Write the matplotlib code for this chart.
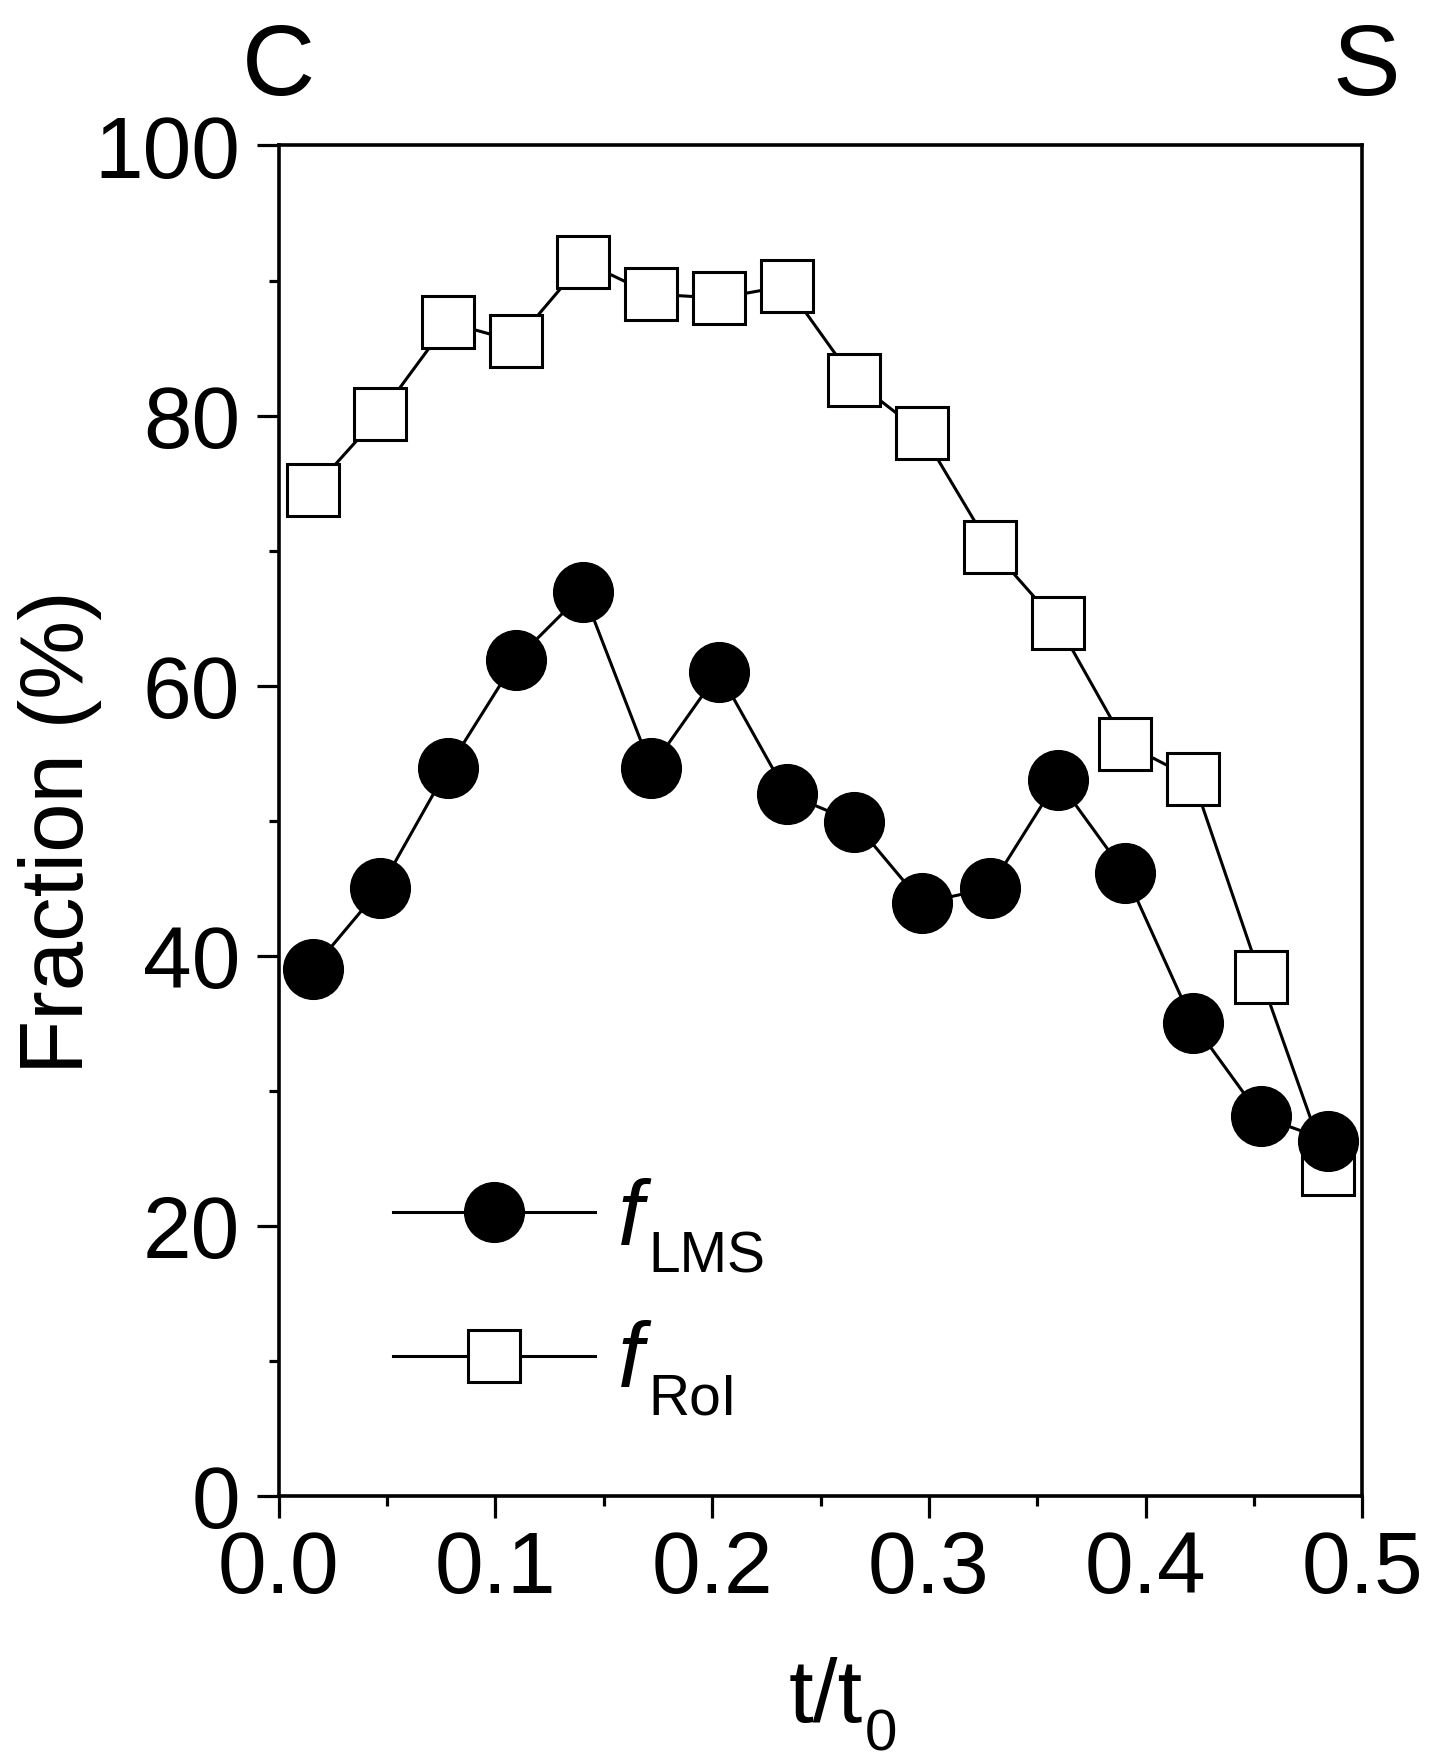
import numpy as np
import matplotlib.pyplot as plt
from matplotlib.ticker import MultipleLocator

plt.rcParams['font.family'] = ['Liberation Sans', 'DejaVu Sans']

# данные
t = [0.0156, 0.0469, 0.0781, 0.1094, 0.1406, 0.1719, 0.2031, 0.2344,
     0.2656, 0.2969, 0.3281, 0.3594, 0.3906, 0.4219, 0.4531, 0.4844]
f_lms = [39.0, 45.0, 53.9, 61.9, 66.9, 53.9, 61.0, 52.0,
         49.9, 43.9, 45.0, 53.0, 46.1, 35.0, 28.1, 26.3]
f_roi = [74.5, 80.1, 86.9, 85.5, 91.4, 89.0, 88.7, 89.6,
         82.6, 78.7, 70.3, 64.6, 55.7, 53.1, 38.4, 24.2]
xticks = ['0.0', '0.1', '0.2', '0.3', '0.4', '0.5']
yticks = ['0', '20', '40', '60', '80', '100']

fs = 63

fig = plt.figure(figsize=(14.37, 17.65), dpi=100)
ax = fig.add_axes([0.194, 0.152, 0.754, 0.765])

l_roi, = ax.plot(t, f_roi, '-', color='black', lw=2.2, marker='s', ms=37,
                 mfc='white', mec='black', mew=2.2, zorder=3)
l_lms, = ax.plot(t, f_lms, '-', color='black', lw=2.2, marker='o', ms=43,
                 mfc='black', mec='black', zorder=4)

ax.set_xlim(0, 0.5)
ax.set_ylim(0, 100)
ax.set_xticks([0, 0.1, 0.2, 0.3, 0.4, 0.5])
ax.set_xticklabels(xticks)
ax.set_yticks([0, 20, 40, 60, 80, 100])
ax.set_yticklabels(yticks)
ax.xaxis.set_minor_locator(MultipleLocator(0.05))
ax.yaxis.set_minor_locator(MultipleLocator(10))

ax.tick_params(which='major', direction='out', length=16, width=2.3,
               labelsize=fs, top=False, right=False)
ax.tick_params(axis='y', which='major', pad=12)
ax.tick_params(axis='x', which='major', pad=8)
ax.tick_params(which='minor', direction='out', length=7, width=2.3,
               top=False, right=False)
for s in ax.spines.values():
    s.set_linewidth(2.6)

# подписи осей
ax.set_ylabel('Fraction (%)', fontsize=64)
ax.yaxis.set_label_coords(-0.163, 0.492)
ax.set_xlabel('t/t', fontsize=64)
ax.xaxis.set_label_coords(0.505, -0.119)
ax.text(0.541, -0.197, '0', transform=ax.transAxes, fontsize=42,
        ha='left', va='bottom')

ax.text(0.0, 1.038, 'C', transform=ax.transAxes, fontsize=73, ha='center', va='baseline')
ax.text(1.004, 1.038, 'S', transform=ax.transAxes, fontsize=73, ha='center', va='baseline')

# легенда: значки через legend, подписи f с индексом вручную
ax.legend([l_lms, l_roi], [' ', ' '], loc='center left',
          bbox_to_anchor=(0.033, 0.151), frameon=False, fontsize=fs,
          handlelength=2.3, handletextpad=0.2, labelspacing=0.72)
for yb, sub in [(0.187, 'LMS'), (0.082, 'RoI')]:
    ax.text(0.313, yb, 'f', transform=ax.transAxes, fontsize=66,
            style='italic', ha='left', va='baseline')
    ax.text(0.341, yb - 0.021, sub, transform=ax.transAxes, fontsize=41,
            ha='left', va='baseline')

fig.savefig('out.png', dpi=100)
